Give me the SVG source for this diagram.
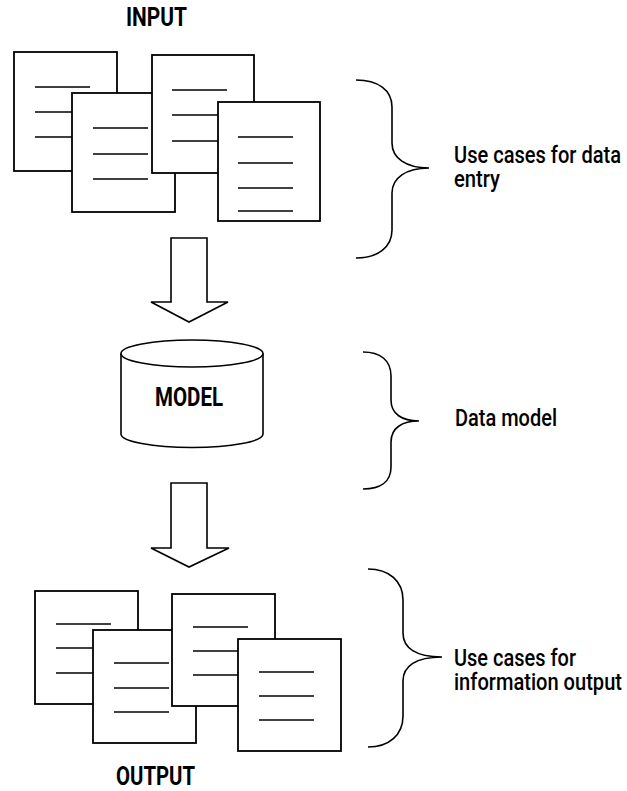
<svg xmlns="http://www.w3.org/2000/svg" width="627" height="791" viewBox="0 0 627 791">
<style>
.doc rect{fill:#fff;stroke:#000;stroke-width:1.8}
.doc line{stroke:#000;stroke-width:1.6}
.brace{fill:none;stroke:#000;stroke-width:1.6}
.arrow{fill:#fff;stroke:#000;stroke-width:1.6;stroke-linejoin:miter}
text{font-family:Roboto,"Liberation Sans",Arial,sans-serif;font-size:23px;font-weight:500;fill:#000}
.title{font-size:25px;font-weight:700}
</style>
<rect width="627" height="791" fill="#fff"/>
<g id="input-label"><text class="title" transform="translate(126,26) scale(0.85,1)" x="0" y="0" textLength="71.8" lengthAdjust="spacingAndGlyphs">INPUT</text></g>
<g id="input-docs" class="doc">
<rect x="14" y="52" width="103" height="119"/>
<line x1="35" y1="87" x2="90" y2="87"/><line x1="35" y1="112" x2="90" y2="112"/><line x1="35" y1="137" x2="90" y2="137"/>
<rect x="72" y="93" width="103" height="119"/>
<line x1="93" y1="128" x2="148" y2="128"/><line x1="93" y1="154" x2="148" y2="154"/><line x1="93" y1="179" x2="148" y2="179"/>
<rect x="152" y="55" width="102" height="118"/>
<line x1="172" y1="90" x2="227" y2="90"/><line x1="172" y1="115" x2="227" y2="115"/><line x1="172" y1="141" x2="227" y2="141"/>
<rect x="218" y="102" width="102" height="119"/>
<line x1="238" y1="137" x2="293" y2="137"/><line x1="238" y1="163" x2="293" y2="163"/><line x1="238" y1="188" x2="293" y2="188"/><line x1="238" y1="211" x2="293" y2="211"/>
</g>
<g id="model">
<path d="M121,353.5 L121,434 A71,13.5 0 0 0 263,434 L263,353.5" fill="#fff" stroke="#000" stroke-width="1.6"/>
<ellipse cx="192" cy="353.5" rx="71" ry="13.5" fill="#fff" stroke="#000" stroke-width="1.6"/>
<text class="title" transform="translate(155,406) scale(0.85,1)" x="0" y="0" textLength="80" lengthAdjust="spacingAndGlyphs">MODEL</text>
</g>
<g id="output-docs" class="doc">
<rect x="35" y="591" width="103" height="113"/>
<line x1="56" y1="624" x2="111" y2="624"/><line x1="56" y1="648" x2="111" y2="648"/><line x1="56" y1="673" x2="111" y2="673"/>
<rect x="93" y="630" width="103" height="113"/>
<line x1="114" y1="663" x2="169" y2="663"/><line x1="114" y1="688" x2="169" y2="688"/><line x1="114" y1="712" x2="169" y2="712"/>
<rect x="172" y="594" width="103" height="112"/>
<line x1="193" y1="627" x2="248" y2="627"/><line x1="193" y1="651" x2="248" y2="651"/><line x1="193" y1="675" x2="248" y2="675"/>
<rect x="238" y="639" width="103" height="112"/>
<line x1="259" y1="672" x2="314" y2="672"/><line x1="259" y1="696" x2="314" y2="696"/><line x1="259" y1="720" x2="314" y2="720"/>
</g>
<g id="output-label"><text class="title" transform="translate(116,785) scale(0.85,1)" x="0" y="0" textLength="93" lengthAdjust="spacingAndGlyphs">OUTPUT</text></g>
<g id="connectors">
<polygon class="arrow" points="171,238 207,238 207,302 228,302 189,322 151,302 171,302"/>
<polygon class="arrow" points="171,483 207,483 207,548 229,548 189,567 151,548 171,548"/>
</g>
<g id="brace-entry">
<path class="brace" d="M356,80 C378,80 392,90 392,107 L392,143 C392,158 406,168 429,168 C406,168 392,178 392,193 L392,230 C392,247 378,258 356,258"/>
<text transform="translate(454,163) scale(0.875,1)"><tspan x="0" y="0" textLength="190.9" lengthAdjust="spacingAndGlyphs">Use cases for data</tspan><tspan x="0" y="24" textLength="52.6" lengthAdjust="spacingAndGlyphs">entry</tspan></text>
</g>
<g id="brace-model">
<path class="brace" d="M363,352 C380,352 391,360 391,376 L391,400 C391,414 402,421 419,421 C402,421 391,428 391,442 L391,467 C391,482 380,489 363,489"/>
<text transform="translate(455,426) scale(0.875,1)" x="0" y="0" textLength="116.6" lengthAdjust="spacingAndGlyphs">Data model</text>
</g>
<g id="brace-output">
<path class="brace" d="M368,569 C389,569 403,581 403,600 L403,633 C403,648 416,657 442,657 C416,657 403,666 403,681 L403,716 C403,735 389,747 368,747"/>
<text transform="translate(454,666) scale(0.875,1)"><tspan x="0" y="0" textLength="139.4" lengthAdjust="spacingAndGlyphs">Use cases for</tspan><tspan x="0" y="24" textLength="192" lengthAdjust="spacingAndGlyphs">information output</tspan></text>
</g>
</svg>
